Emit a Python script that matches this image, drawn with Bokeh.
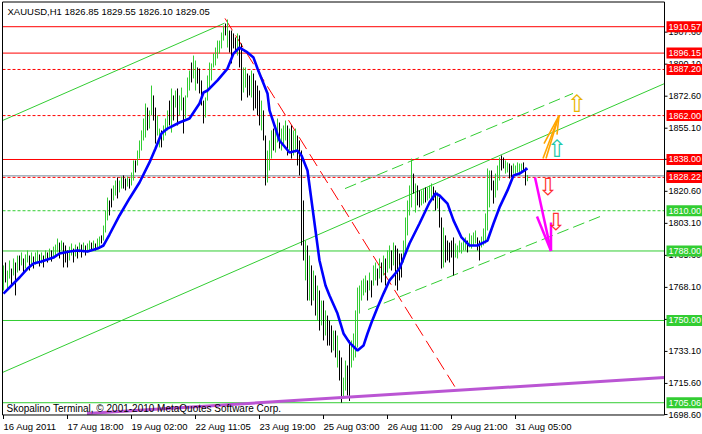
from bokeh.plotting import figure
from bokeh.models import Range1d, Label, ColumnDataSource
from bokeh.embed import file_html
from bokeh.resources import INLINE
from bokeh.core.properties import value

FONT = "Liberation Sans"

# ---------------- data ----------------
symbol = "XAUUSD,H1"
last_ohlc = [1826.85, 1829.55, 1826.10, 1829.05]
copyright_text = "Skopalino Terminal, \u00a9 2001-2010 MetaQuotes Software Corp."

time_tick_idx = [0, 32, 64, 96, 128, 160, 192, 224, 256]
time_tick_labels = ["16 Aug 2011", "17 Aug 18:00", "19 Aug 02:00", "22 Aug 11:05",
                    "23 Aug 19:00", "25 Aug 03:00", "26 Aug 11:00", "29 Aug 21:00",
                    "31 Aug 05:00"]
price_ticks = [1698.6, 1715.6, 1733.1, 1750.6, 1768.1, 1785.6, 1803.1, 1820.6,
               1838.1, 1855.1, 1872.6, 1890.1, 1907.6]

bar_high = [
    1780.1, 1781.7, 1777.3, 1782.8, 1778.4, 1783.9, 1781.7, 1785.5,
    1785.5, 1787.2, 1783.9, 1786.1, 1788.3, 1785.5, 1787.2, 1785.0,
    1787.2, 1788.3, 1786.1, 1787.2, 1785.5, 1788.3, 1787.2, 1789.3, 1788.3, 1790.4,
    1791.5, 1794.8, 1792.6, 1793.7, 1792.6, 1791.0,
    1788.3, 1790.4, 1792.1, 1789.3, 1791.5, 1790.4, 1792.6,
    1791.5, 1792.6, 1791.0, 1792.1, 1793.7,
    1792.6, 1793.7, 1792.1, 1794.8, 1795.9,
    1796.5, 1801.9, 1810.1, 1817.2, 1815.6,
    1822.1, 1823.8, 1826.5, 1828.2, 1826.5,
    1828.7, 1829.3, 1827.6, 1828.7, 1827.6, 1830.9, 1837.5,
    1837.5, 1842.9, 1848.4,
    1853.9, 1860.4, 1868.6, 1866.4, 1864.8, 1878.4, 1873.0,
    1866.4, 1862.1, 1854.9, 1853.9, 1856.6, 1860.4, 1864.8, 1870.2,
    1876.8, 1873.0, 1875.7, 1876.8, 1873.0, 1877.3, 1871.9, 1873.0,
    1882.8, 1886.6, 1891.0, 1894.8, 1892.1, 1888.3, 1887.7, 1881.2,
    1870.2, 1871.9, 1883.9, 1891.0, 1890.5, 1895.9,
    1899.2, 1903.0, 1903.0, 1907.4, 1911.2, 1912.3, 1914.5, 1908.5,
    1908.5, 1906.9, 1904.7, 1906.9, 1905.8, 1901.4, 1888.3, 1888.3,
    1885.0, 1883.9, 1886.6, 1885.0, 1881.2, 1878.4, 1875.7, 1870.2,
    1864.8, 1851.1, 1842.9, 1848.4, 1853.9, 1854.9, 1856.6, 1860.4,
    1858.2, 1854.9, 1856.6, 1859.3, 1856.6, 1854.9, 1856.6, 1853.9, 1854.9, 1851.1, 1848.4,
    1842.9, 1815.6, 1793.7, 1791.0, 1785.5, 1780.1, 1777.3, 1774.6, 1769.1, 1766.4,
    1760.9, 1760.9, 1755.5, 1752.7,
    1750.0, 1747.3, 1744.5, 1744.5, 1741.8, 1733.6, 1729.8, 1718.8, 1728.1, 1725.4,
    1739.1, 1739.1, 1742.9, 1755.5, 1768.0, 1769.1, 1771.9,
    1772.9, 1774.6, 1771.9, 1776.2, 1771.9, 1780.1, 1781.7, 1778.4, 1783.9, 1781.7,
    1785.5, 1783.9, 1788.3, 1791.0, 1788.3, 1792.6, 1791.0, 1789.3, 1786.6, 1786.6,
    1793.7, 1806.3, 1815.6, 1823.8, 1838.5, 1830.3, 1824.9, 1823.8, 1821.1, 1821.1,
    1822.1, 1822.7, 1822.7, 1823.8, 1824.9, 1823.2, 1821.1, 1820.0,
    1817.2, 1806.3, 1800.8, 1796.5, 1793.7, 1792.6, 1793.7, 1795.4, 1792.1, 1791.0,
    1793.7, 1792.6, 1794.8, 1795.4, 1793.7, 1797.6, 1796.5, 1798.1, 1799.2, 1795.4,
    1793.7, 1795.9, 1800.3, 1808.5,
    1833.1, 1832.0, 1832.0, 1826.5, 1830.3, 1834.7, 1839.1, 1840.2, 1839.1, 1837.5,
    1836.4, 1835.8, 1834.7, 1835.8, 1834.7, 1836.4, 1835.8, 1835.8, 1836.4, 1833.6, 1829.55,
]
bar_low = [
    1766.4, 1770.8, 1767.5, 1772.9, 1769.1, 1774.6, 1763.7, 1776.2,
    1777.3, 1780.1, 1775.7, 1778.4, 1781.7, 1777.3, 1779.5, 1778.4,
    1780.6, 1781.7, 1779.5, 1781.1, 1779.0, 1782.8, 1781.7, 1783.9, 1782.2, 1783.9,
    1785.0, 1787.2, 1783.9, 1788.3, 1779.0, 1781.7,
    1779.0, 1782.8, 1785.5, 1781.7, 1785.0, 1783.9, 1787.2,
    1784.4, 1787.2, 1785.5, 1787.2, 1788.3,
    1788.3, 1789.3, 1788.3, 1789.9, 1790.4,
    1792.1, 1793.7, 1798.1, 1804.7, 1807.4,
    1811.8, 1815.6, 1818.3, 1816.7, 1820.0,
    1822.1, 1822.1, 1821.1, 1823.2, 1822.1, 1823.8, 1826.5,
    1830.9, 1834.7, 1838.5,
    1842.9, 1848.4, 1850.0, 1853.9, 1854.9, 1862.1, 1859.3,
    1846.7, 1851.1, 1844.6, 1844.6, 1848.4, 1851.1, 1853.9, 1856.6,
    1852.7, 1859.3, 1866.4, 1856.6, 1862.1, 1864.8, 1852.2, 1860.4,
    1871.9, 1875.7, 1880.1, 1882.3, 1875.7, 1879.5, 1874.1, 1867.5,
    1857.7, 1860.9, 1870.2, 1877.3, 1881.2, 1888.3,
    1889.4, 1893.2, 1895.9, 1898.7, 1903.0, 1905.8, 1899.2, 1896.5,
    1890.5, 1898.7, 1897.6, 1894.8, 1888.3, 1870.2, 1874.6, 1877.3,
    1871.9, 1873.0, 1871.9, 1864.8, 1865.9, 1862.1, 1856.6, 1853.9,
    1848.4, 1823.8, 1825.4, 1832.0, 1838.5, 1842.9, 1841.8, 1847.3,
    1844.0, 1842.9, 1845.7, 1848.4, 1840.2, 1842.9, 1838.5, 1840.2, 1841.8, 1834.7, 1829.3,
    1791.0, 1782.8, 1771.9, 1760.9, 1760.9, 1758.2, 1760.9, 1752.7, 1750.0, 1744.5,
    1747.3, 1739.1, 1741.8, 1736.3,
    1736.3, 1732.5, 1733.6, 1729.8, 1724.3, 1717.2, 1705.1, 1707.5, 1711.7, 1709.0,
    1706.0, 1724.3, 1728.1, 1729.8, 1735.2, 1753.8, 1760.9,
    1763.7, 1765.3, 1760.9, 1766.4, 1762.6, 1769.1, 1771.9, 1769.1, 1772.9, 1770.8,
    1774.6, 1769.1, 1776.2, 1778.4, 1777.3, 1780.1, 1769.1, 1766.4, 1771.9, 1773.5,
    1781.7, 1788.3, 1796.5, 1807.4, 1811.8, 1819.4, 1809.0, 1812.9, 1811.8, 1812.9,
    1813.9, 1814.5, 1815.6, 1816.7, 1817.2, 1815.6, 1810.1, 1811.2,
    1800.8, 1778.4, 1779.0, 1781.7, 1782.8, 1781.7, 1784.4, 1774.6, 1784.4, 1783.9,
    1787.2, 1786.6, 1788.3, 1788.3, 1787.2, 1789.9, 1789.3, 1791.0, 1792.1, 1788.3,
    1782.8, 1789.9, 1791.0, 1792.1,
    1799.2, 1811.8, 1821.1, 1813.9, 1817.2, 1821.1, 1826.5, 1832.0, 1833.1, 1830.3,
    1830.9, 1827.6, 1828.2, 1830.3, 1829.3, 1830.9, 1829.3, 1830.9, 1832.0, 1823.8, 1826.10,
]
bar_dir = ("GBGGBGBG" "BGBGGBGB" "GGBGBGBGBG" "GGBGBB" "BGGBGBG" "BGBGG" "BGBGG"
           "BGGGB" "BGGBG" "GBBGBGG" "BGG" "GGGBGGB" "BGGBGGGB" "GBGBGGBG"
           "GGBGGBBB" "BGGGGG" "GGGGGBGB" "BBBGBBGG" "BBGBBBBG" "BBGGGBGG"
           "BGGGBGBGGBB" "BBGBGBGBGBGBGB" "BBGBGBBGGBBGGGGGG" "GGBGBGGBGBGBGGBGBBBB"
           "GGGGGBGBBGGBGGGBBG" "BBGBBBBBGGGGGGBGGGGBBGGG" "GGBBGGGBBGGBBGGGGGBBG")

ma_idx = [0, 5, 8, 12, 15, 19, 25, 28, 33, 37, 42, 47, 50, 53, 58, 63, 68, 73, 76, 79,
          82, 88, 93, 98, 100, 102, 107, 112, 115, 118, 122, 125, 127, 129, 132, 133, 138,
          143, 147, 149, 152, 154, 156, 158, 161, 163, 167, 170, 173, 176, 177, 180, 182,
          184, 187, 190, 193, 198, 203, 208, 213, 216, 218, 222, 225, 229, 233, 237, 242,
          245, 248, 252, 255, 258, 262]
ma_val = [1764.7, 1770.2, 1773.5, 1778.4, 1781.1, 1782.2, 1784.4, 1786.6, 1787.7, 1788.3,
          1787.7, 1789.3, 1791.0, 1797.0, 1807.4, 1816.7, 1825.4, 1836.4, 1844.0, 1852.2,
          1854.9, 1858.2, 1860.4, 1868.6, 1874.6, 1875.7, 1881.2, 1887.7, 1895.9, 1899.2,
          1896.5, 1893.7, 1887.7, 1882.3, 1874.1, 1864.8, 1848.4, 1841.8, 1842.9, 1840.2,
          1832.0, 1815.6, 1799.2, 1782.8, 1769.1, 1763.7, 1753.8, 1742.9, 1737.9, 1734.7,
          1733.6, 1736.3, 1742.9, 1748.9, 1757.1, 1764.7, 1771.9, 1778.4, 1792.1, 1803.0,
          1814.5, 1819.4, 1818.3, 1813.9, 1804.7, 1795.4, 1791.0, 1791.0, 1793.7, 1803.0,
          1811.8, 1821.1, 1829.3, 1830.3, 1833.1]

red_solid_levels = [1910.57, 1896.15, 1838.00]
red_dash_levels = [1887.20, 1862.00, 1828.22]
green_dash_levels = [1810.00]
green_solid_levels = [1788.00, 1750.00, 1705.06]
bid_price = 1829.05

chan_up_x, chan_up_y = [-0.5, 110.5], [1859.3, 1912.5]
chan_lo_x, chan_lo_y = [-0.5, 330.5], [1721.6, 1879.5]
dash_up_x, dash_up_y = [170.75, 284.75], [1822.1, 1874.1]
dash_lo_x, dash_lo_y = [182.25, 298.25], [1756.0, 1806.8]
red_diag_x, red_diag_y = [110.75, 226.25], [1915.1, 1712.8]
purple_x, purple_y = [41.75, 330.5], [1699.2, 1718.85]

orange_xs = [[269.75, 277.75], [271.25, 277.75], [270.25, 277.75], [276.75, 277.75]]
orange_ys = [[1838.5, 1862.0], [1838.5, 1862.0], [1846.7, 1862.0], [1851.6, 1862.0]]
magenta_xs = [[265.75, 273.75], [266.75, 273.75], [273.75, 273.75]]
magenta_ys = [[1828.2, 1788.0], [1806.8, 1788.0], [1803.6, 1788.0]]

sym_x = [286.75, 276.75, 272.25, 276.25]
sym_y = [1868.1, 1844.0, 1822.7, 1804.1]
sym_text = ["\u21e7", "\u21e7", "\u21e9", "\u21e9"]
sym_color = ["#E8B400", "#20C8A8", "#FF3030", "#FF3030"]

# ---------------- layout (screen geometry expressed in data units) ----------------
UP = "#32CD32"
RED = "#FF0000"
W, H = 702, 434
x_lo, x_hi = -1.5, 349.5            # 2 px per hourly bar
y_hi = 1924.90
y_lo = y_hi - 237.21                # ~1.83 px per dollar
px_y = H / (y_hi - y_lo)
chart_left, chart_right = -0.5, 330.5
chart_top, chart_bottom = 1924.08, 1698.35

n = min(len(bar_high), len(bar_low), len(bar_dir))
src = ColumnDataSource(dict(x=list(range(n)), hi=bar_high[:n], lo=bar_low[:n],
                            c=[UP if d == "G" else "black" for d in bar_dir[:n]]))

p = figure(width=W, height=H, x_range=Range1d(x_lo, x_hi), y_range=Range1d(y_lo, y_hi),
           output_backend="svg", toolbar_location=None,
           x_axis_location=None, y_axis_location=None, min_border=0)
p.background_fill_color = "white"
p.border_fill_color = "white"
p.outline_line_color = None
p.xgrid.visible = False
p.ygrid.visible = False

# trend lines
p.line(chan_up_x, chan_up_y, line_color=UP, line_width=1)
p.line(chan_lo_x, chan_lo_y, line_color=UP, line_width=1)
p.line(dash_up_x, dash_up_y, line_color=UP, line_width=1, line_dash="12 5")
p.line(dash_lo_x, dash_lo_y, line_color=UP, line_width=1, line_dash="12 5")
p.line(red_diag_x, red_diag_y, line_color=RED, line_width=1, line_dash="14 6")

# horizontal levels
def hlines(levels, color, dash="solid"):
    p.segment(x0=[chart_left] * len(levels), x1=[chart_right] * len(levels),
              y0=levels, y1=levels, line_color=color, line_width=1, line_dash=dash)

hlines(red_solid_levels, RED)
hlines(red_dash_levels, RED, "3 2")
hlines(green_dash_levels, UP, "3 2")
hlines(green_solid_levels, UP)
hlines([bid_price], "#778899")

# bars
p.segment(x0="x", y0="lo", x1="x", y1="hi", line_color="c", line_width=1, source=src)

# moving average
p.line(ma_idx, ma_val, line_color="#0000FF", line_width=2.6)

# purple line
p.line(purple_x, purple_y, line_color="#BA55D3", line_width=3)

# arrows
p.multi_line(orange_xs, orange_ys, line_color="#FFA500", line_width=1.6)
p.multi_line(magenta_xs, magenta_ys, line_color="#FF00FF", line_width=2.5)
p.text(x=sym_x, y=sym_y, text=sym_text, text_color=sym_color,
       text_font=value("DejaVu Sans"), text_font_size="24px",
       text_align="center", text_baseline="middle")

# chart frame + axis lines
p.line([chart_left, chart_left, chart_right, chart_right, chart_left],
       [chart_bottom, chart_top, chart_top, chart_bottom, chart_bottom],
       line_color="black", line_width=1)
# price ticks and labels
p.segment(x0=[chart_right] * len(price_ticks), x1=[chart_right + 1.5] * len(price_ticks),
          y0=price_ticks, y1=price_ticks, line_color="black", line_width=1)
p.text(x=[chart_right] * len(price_ticks), y=price_ticks,
       text=[f"{t:.2f}" for t in price_ticks], x_offset=4,
       text_font=value(FONT), text_font_size="9px", text_color="black",
       text_align="left", text_baseline="middle")
# time ticks
p.segment(x0=time_tick_idx, x1=time_tick_idx, y0=[chart_bottom] * len(time_tick_idx),
          y1=[chart_bottom - 4 / px_y] * len(time_tick_idx), line_color="black", line_width=1)

# level boxes on the price scale
box_x = chart_right + 10.5
def level_boxes(levels, fill, show_text=True):
    p.rect(x=[box_x] * len(levels), y=levels, width=38, height=11,
           width_units="screen", height_units="screen",
           fill_color=fill, line_color=None)
    if show_text:
        p.text(x=[chart_right] * len(levels), y=levels, text=[f"{lv:.2f}" for lv in levels],
               x_offset=4, text_font=value(FONT), text_font_size="9px", text_color="white",
               text_align="left", text_baseline="middle")

level_boxes([bid_price], "black", show_text=False)
level_boxes(red_solid_levels + red_dash_levels, RED)
level_boxes(green_dash_levels + green_solid_levels, UP)

# texts
o, h, l, c = last_ohlc
p.add_layout(Label(x=x_lo, y=y_hi, x_offset=7, y_offset=-5, text_baseline="top",
                   text=f"{symbol}  {o:.2f} {h:.2f} {l:.2f} {c:.2f}",
                   text_font=FONT, text_font_size="9.5px", text_color="black"))
p.add_layout(Label(x=chart_left, y=chart_bottom, x_offset=4, y_offset=1,
                   text_baseline="bottom", text=copyright_text, text_font=FONT,
                   text_font_size="10px", text_color="black"))
for t, lab in zip(time_tick_idx, time_tick_labels):
    p.add_layout(Label(x=t, y=chart_bottom, x_offset=0, y_offset=-6, text=lab,
                       text_baseline="top", text_align="left", text_font=FONT,
                       text_font_size="9.5px", text_color="black"))

open("out.html", "w").write(file_html(p, INLINE))
